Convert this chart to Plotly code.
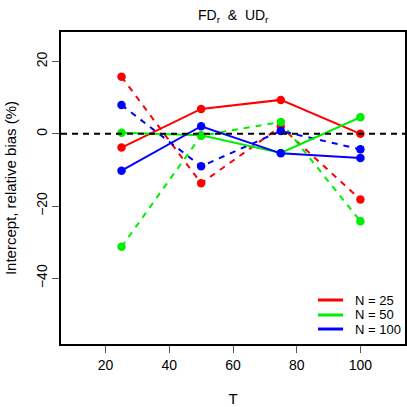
import plotly.graph_objects as go

T = [25, 50, 75, 100]
fd_25 = [-3.8, 6.9, 9.4, 0.0]
ud_25 = [15.8, -13.7, 2.0, -18.2]
fd_50 = [0.3, -0.4, -5.3, 4.6]
ud_50 = [-31.3, -0.5, 3.3, -24.2]
fd_100 = [-10.2, 2.1, -5.4, -6.7]
ud_100 = [8.0, -9.0, 0.8, -4.3]

labels = ["N = 25", "N = 50", "N = 100"]
colors = ["#ff0000", "#00ee00", "#0000ff"]
solid = [fd_25, fd_50, fd_100]
dashed = [ud_25, ud_50, ud_100]

fig = go.Figure()

fig.add_hline(y=0, line=dict(color="black", width=2, dash="6px,5px"))

for ys, c in zip(dashed, colors):
    fig.add_trace(go.Scatter(x=T, y=ys, mode="lines+markers",
                             line=dict(color=c, width=2, dash="6px,6px"),
                             marker=dict(color=c, size=8.5),
                             showlegend=False))
for ys, c in zip(solid, colors):
    fig.add_trace(go.Scatter(x=T, y=ys, mode="lines+markers",
                             line=dict(color=c, width=2),
                             marker=dict(color=c, size=8.5),
                             showlegend=False))

# hand-made legend (R style, no box)
leg_y = [0.141, 0.093, 0.048]
for lab, c, ly in zip(labels, colors, leg_y):
    fig.add_shape(type="line", xref="paper", yref="paper",
                  x0=0.747, x1=0.820, y0=ly, y1=ly,
                  line=dict(color=c, width=3))
    fig.add_annotation(xref="paper", yref="paper", x=0.849, y=ly,
                       text=lab, showarrow=False, xanchor="left",
                       yanchor="middle", font=dict(size=13))

fig.update_layout(
    width=407, height=407,
    margin=dict(l=61, r=2, t=32, b=63),
    plot_bgcolor="white", paper_bgcolor="white",
    font=dict(family="Liberation Sans, Arial", size=14, color="black"),
    title=dict(text="FD<sub>r</sub>  &  UD<sub>r</sub>", x=0.573, xanchor="center",
               y=0.962, yanchor="middle", font=dict(size=14)),
    showlegend=False,
    xaxis=dict(range=[6, 114], tickvals=[20, 40, 60, 80, 100],
               showgrid=False, zeroline=False, showline=True, mirror=True,
               linecolor="black", linewidth=1.5, ticks="outside", ticklen=7,
               tickcolor="#555", automargin=False,
               title=dict(text="T", standoff=23, font=dict(size=15))),
    yaxis=dict(range=[-58.2, 28.2], tickvals=[-40, -20, 0, 20],
               showgrid=False, zeroline=False, showline=True, mirror=True,
               linecolor="black", linewidth=1.5, ticks="outside", ticklen=7,
               tickcolor="#555", tickangle=-90, automargin=False,
               title=dict(text="Intercept, relative bias (%)", standoff=13,
                          font=dict(size=15))),
)

fig.write_html("out.html", config={"displayModeBar": False},
               post_script="document.body.style.margin='0';")
